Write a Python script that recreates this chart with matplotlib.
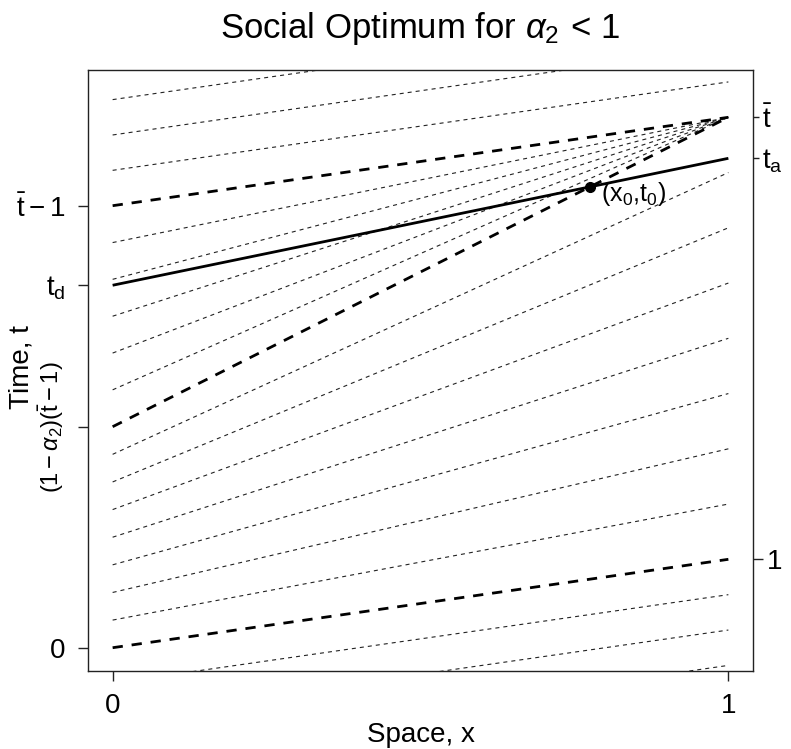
import numpy as np
import matplotlib
matplotlib.use('Agg')
import matplotlib.pyplot as plt

plt.rcParams['font.family'] = ['Liberation Sans', 'DejaVu Sans']
plt.rcParams['mathtext.fontset'] = 'custom'
plt.rcParams['mathtext.rm'] = 'Liberation Sans'
plt.rcParams['mathtext.it'] = 'Liberation Sans:italic'
plt.rcParams['mathtext.bf'] = 'Liberation Sans:bold'
plt.rcParams['lines.scale_dashes'] = False

#### values (time units) ####
t_bar = 6.0
t_d = 4.10
t_a = 5.536
x0, t0 = 0.775, 5.21

# thin lines below the fan: (0, start) -> (1, end)
low_start = [0.3125, 0.625, 0.9375, 1.25, 1.5625, 1.875, 2.1875]
low_end = [1.625, 2.25, 2.875, 3.5, 4.125, 4.75, 5.375]
# thin lines of the fan, all end at (1, t_bar)
fan_start = [2.917, 3.333, 3.75, 4.167, 4.583]
# free flow lines, slope 1
free_start = [-1.2, -0.8, -0.4, 5.4, 5.8, 6.2]
free_end = [-0.2, 0.2, 0.6, 6.4, 6.8, 7.2]
# thick dashed lines
thick_start = [0.0, 2.5, 5.0]
thick_end = [1.0, 6.0, 6.0]

left_ticks = [0, 2.5, 4.10, 5.0]
left_labels = ['0', r'$\mathrm{(1-}\alpha_\mathrm{2}\mathrm{)(\bar{t}-1)}$',
               r'$\mathrm{t_d}$', r'$\mathrm{\bar{t}-1}$']
right_ticks = [1]
right_labels = ['1']
right_minor = [t_a, t_bar]
right_minor_labels = [r'$\mathrm{t_a}$', r'$\mathrm{\bar{t}}$']

ylims = (-0.26, 6.535)
fs = 20
thin_kw = dict(color='#222222', lw=0.8, dashes=(2.9, 2.9))
thick_kw = dict(color='black', lw=2.0, dashes=(7.4, 6.4))

fig = plt.figure(figsize=(7.91, 7.49), dpi=100)
ax = fig.add_axes([88/791, 1 - 670.7/749, 665/791, 600.7/749])

for a, b in zip(low_start, low_end):
    ax.plot([0, 1], [a, b], **thin_kw)
for a in fan_start:
    ax.plot([0, 1], [a, t_bar], **thin_kw)
for a, b in zip(free_start, free_end):
    ax.plot([0, 1], [a, b], **thin_kw)
for a, b in zip(thick_start, thick_end):
    ax.plot([0, 1], [a, b], **thick_kw)

ax.plot([0, 1], [t_d, t_a], color='black', lw=2.0, solid_capstyle='butt')
ax.plot([x0], [t0], 'o', color='black', ms=7)
ax.annotate(r'$\mathrm{(x_0{,}t_0)}$', (x0, t0), xytext=(8, -5),
            textcoords='offset points', ha='left', va='center', fontsize=18)

ax.set_xlim(-0.04, 1.04)
ax.set_ylim(*ylims)
ax.set_xticks([0, 1])
ax.set_xticklabels(['0', '1'])
ax.set_yticks(left_ticks)
ax.set_yticklabels(left_labels)

ax.tick_params(axis='x', length=7.2, width=1, pad=8.5, labelsize=fs, color='#222222')
ax.tick_params(axis='y', length=7.2, width=1, pad=9.0, labelsize=fs, color='#222222')
# the long label on the left runs along the axis
lab = ax.get_yticklabels()[1]
lab.set_rotation(90)
lab.set_va('center')
lab.set_fontsize(17)
for s in ax.spines.values():
    s.set_linewidth(1.0)
    s.set_color('#222222')

ax2 = ax.twinx()
ax2.set_ylim(*ylims)
ax2.set_yticks(right_ticks)
ax2.set_yticklabels(right_labels)
ax2.set_yticks(right_minor, minor=True)
ax2.set_yticklabels(right_minor_labels, minor=True)
ax2.tick_params(which='major', length=7.2, width=1, pad=3, labelsize=fs, color='#222222')
ax2.tick_params(which='minor', length=4.3, width=1, pad=2, labelsize=fs, color='#222222')
for s in ax2.spines.values():
    s.set_visible(False)

ax.set_title(r'Social Optimum for $\alpha_{\mathrm{2}}\,<\,\mathrm{1}$', fontsize=25, pad=23)
fig.text(420.5/791, 1 - 742/749, 'Space, x', ha='center', va='baseline', fontsize=fs)
fig.text(21/791, 1 - 367/749, 'Time, t', ha='center', va='center', rotation=90, fontsize=fs)

fig.savefig('out.png', dpi=100)
